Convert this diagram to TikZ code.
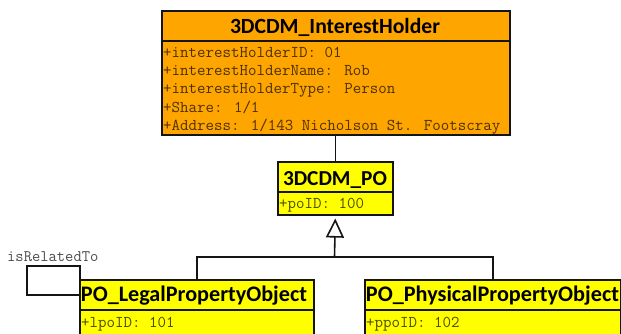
\documentclass[tikz,border=0pt]{standalone}
\usepackage{fontspec}
\newfontfamily\ttl{Carlito}
\usetikzlibrary{arrows.meta}
\definecolor{umlorange}{RGB}{255,165,0}
\definecolor{umlyellow}{RGB}{255,255,0}
\definecolor{edgecol}{RGB}{20,20,20}
\begin{document}
\begin{tikzpicture}[x=1pt,y=-1pt,
  classbox/.style={draw=edgecol,line width=1.6pt,rectangle,inner sep=0pt,anchor=north west},
  ttlnode/.style={inner sep=0pt,anchor=base,font=\ttl\bfseries},
  attr/.style={inner sep=0pt,anchor=base west,font=\ttfamily\fontsize{16.5}{18}\selectfont},
  conn/.style={draw=edgecol,line width=1.6pt},
  gen/.style={-{Triangle[open,length=19pt,width=18pt,fill=white,line width=1.6pt]}}
]
\useasboundingbox (0,0) rectangle (621,333);
\fill[white] (0,0) rectangle (621,333);
\clip (0,0) rectangle (621,333);

% 3DCDM_InterestHolder
\node[classbox,fill=umlorange,minimum width=348pt,minimum height=124pt] (ih) at (161,10) {};
\draw[conn] ([yshift=-31pt]ih.north west) -- ([yshift=-31pt]ih.north east);
\node[ttlnode] (ihT) at (335,33) {\resizebox{210pt}{!}{3DCDM\_InterestHolder}};
\begin{scope}[every node/.append style={text=umlorange!30!black}]
\node[attr] (ih1) at (163,57.0) {+interestHolderID: 01};
\node[attr] (ih2) at (163,75.4) {+interestHolderName: Rob};
\node[attr] (ih3) at (163,93.8) {+interestHolderType: Person};
\node[attr] (ih4) at (163,112.2) {+Share: 1/1};
\node[attr] (ih5) at (163,130.6) {+Address: 1/143 Nicholson St. Footscray};
\end{scope}

% 3DCDM_PO
\node[classbox,fill=umlyellow,minimum width=115pt,minimum height=53pt] (po) at (277,161) {};
\draw[conn] ([yshift=-31pt]po.north west) -- ([yshift=-31pt]po.north east);
\node[ttlnode] (poT) at (335,185) {\resizebox{104pt}{!}{3DCDM\_PO}};
\node[attr,text=umlyellow!30!black] (po1) at (279,208.3) {+poID: 100};

% PO_LegalPropertyObject
\node[classbox,fill=umlyellow,minimum width=234pt,minimum height=80pt] (legal) at (79,279) {};
\draw[conn] ([yshift=-31pt]legal.north west) -- ([yshift=-31pt]legal.north east);
\node[ttlnode] (legalT) at (194,301.7) {\resizebox{226pt}{!}{PO\_LegalPropertyObject}};
\node[attr,text=umlyellow!30!black] (legal1) at (81,327) {+lpoID: 101};

% PO_PhysicalPropertyObject
\node[classbox,fill=umlyellow,minimum width=256pt,minimum height=80pt] (phys) at (364,279) {};
\draw[conn] ([yshift=-31pt]phys.north west) -- ([yshift=-31pt]phys.north east);
\node[ttlnode] (physT) at (492.5,301.7) {\resizebox{253pt}{!}{PO\_PhysicalPropertyObject}};
\node[attr,text=umlyellow!30!black] (phys1) at (366,327) {+ppoID: 102};

% connectors
\draw[conn] (ih.south -| po.north) -- (po.north);
\coordinate (j) at (334.5,257);
\draw[conn,gen] (j) -- ([yshift=-3pt]po.south);
\draw[conn] (legal.north) |- (j) -| (phys.north);

% self association
\draw[conn] ([yshift=-16pt]legal.north west) -- ++(-52,0) |- ([xshift=1pt,yshift=13pt]legal.north west) -- ([xshift=1pt]legal.north west);
\node[attr,font=\ttfamily\fontsize{16.1}{18}\selectfont,text=black!70] (rel) at (7,261.7) {isRelatedTo};
\end{tikzpicture}
\end{document}
